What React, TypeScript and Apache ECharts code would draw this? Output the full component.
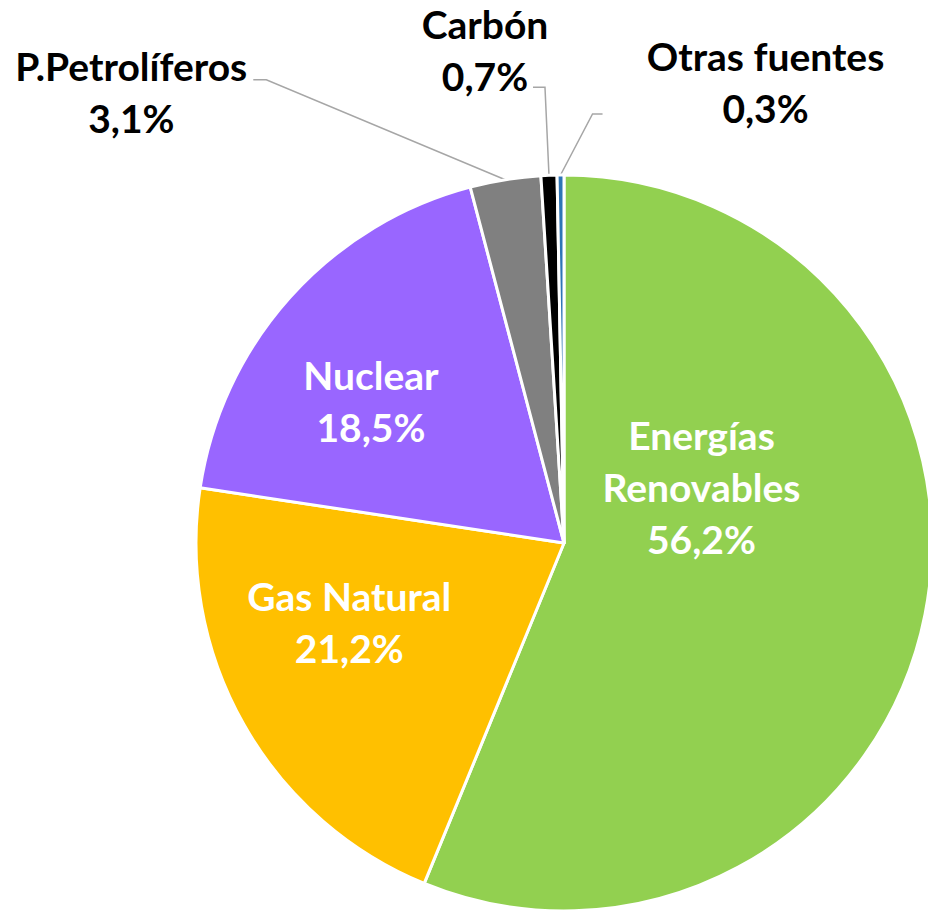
import React, { useEffect, useRef } from "react";
import * as echarts from "echarts";

// Data
const categories = [
  "Energías\nRenovables",
  "Gas Natural",
  "Nuclear",
  "P.Petrolíferos",
  "Carbón",
  "Otras fuentes",
];
const values = [56.2, 21.2, 18.5, 3.1, 0.7, 0.3];
const colors = ["#92D050", "#FFC000", "#9966FF", "#808080", "#000000", "#2E75B6"];
const insideLabel = [true, true, true, false, false, false];

// Label placement tweaks (layout, not data)
const insideShift: Record<number, [number, number]> = {
  0: [-46, -92],
  1: [-52, -13],
  2: [-54, -17],
};
const outsideShift: Record<number, { knee: [number, number]; stub: number; text: [number, number] }> = {
  3: { knee: [-239, -100], stub: -13, text: [-122, 12] },
  4: { knee: [-4, -88], stub: -12, text: [-48, -37] },
  5: { knee: [32, -61], stub: 10, text: [163, -32] },
};

const FONT = "Lato";

export default function App() {
  const ref = useRef<HTMLDivElement>(null);
  useEffect(() => {
    if (!ref.current) return;
    const chart = echarts.init(ref.current, undefined, { renderer: "svg" });
    const data = categories.map((name, i) => ({
      name,
      value: values[i],
      itemStyle: { color: colors[i] },
      label: insideLabel[i]
        ? { position: "inside", color: "#FFFFFF" }
        : { position: "outside", color: "#000000" },
      labelLine: { show: !insideLabel[i] },
    }));
    chart.setOption({
      animation: false,
      backgroundColor: "#FFFFFF",
      series: [
        {
          type: "pie",
          center: [564, 543],
          radius: 368,
          startAngle: 90,
          clockwise: true,
          avoidLabelOverlap: false,
          itemStyle: { borderColor: "#FFFFFF", borderWidth: 3 },
          label: {
            fontFamily: FONT,
            fontWeight: "bold",
            fontSize: 39,
            lineHeight: 52,
            align: "center",
            formatter: (p: any) =>
              p.name + "\n" + Number(p.value).toFixed(1).replace(".", ",") + "%",
          },
          labelLine: {
            lineStyle: { color: "#A6A6A6", width: 1.5 },
            length: 20,
            length2: 10,
          },
          labelLayout: (params: any) => {
            const i = params.dataIndex;
            if (insideShift[i]) {
              return { dx: insideShift[i][0], dy: insideShift[i][1] };
            }
            const cfg = outsideShift[i];
            const pts = params.labelLinePoints;
            if (!cfg || !pts) return {};
            const p0 = pts[0];
            const knee = [p0[0] + cfg.knee[0], p0[1] + cfg.knee[1]];
            const end = [knee[0] + cfg.stub, knee[1]];
            return {
              x: end[0] + cfg.text[0],
              y: end[1] + cfg.text[1],
              align: "center",
              verticalAlign: "middle",
              labelLinePoints: [p0, knee, end],
            };
          },
          data,
        },
      ],
    });
    return () => chart.dispose();
  }, []);
  return (
    <div
      ref={ref}
      style={{ position: "absolute", left: 0, top: 0, width: 928, height: 912 }}
    />
  );
}
